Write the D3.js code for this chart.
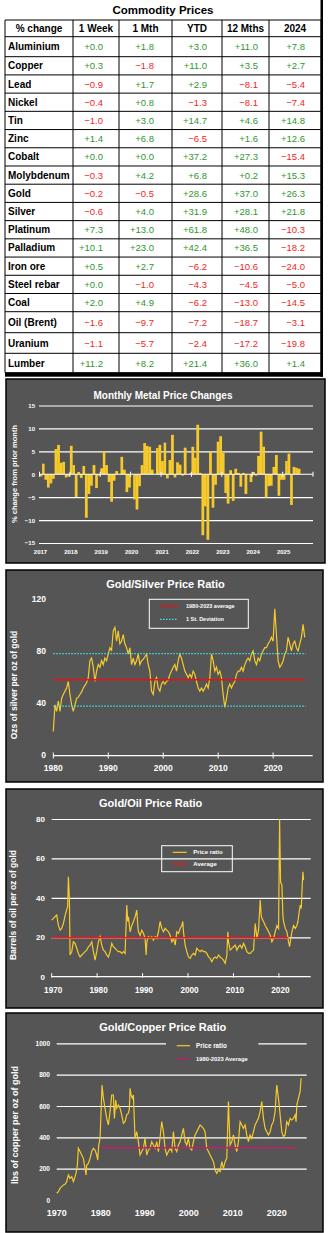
<!DOCTYPE html>
<html lang="en">
<head>
<meta charset="UTF-8">
<title>Commodity Prices</title>
<script src="https://d3js.org/d3.v7.min.js"></script>
<style>
    body {
        margin: 0;
        background: #fff;
    }
    svg {
        display: block;
    }
    text {
        font-family: 'Liberation Sans', Arial, sans-serif;
    }
</style>
</head>
<body>
<svg id="page" width="328" height="1233"></svg>
<script>
// ---- table data ----
const tableHeaders = ["% change", "1 Week", "1 Mth", "YTD", "12 Mths", "2024"];
const commodities = ["Aluminium", "Copper", "Lead", "Nickel", "Tin", "Zinc", "Cobalt", "Molybdenum", "Gold",
    "Silver", "Platinum", "Palladium", "Iron ore", "Steel rebar", "Coal", "Oil (Brent)", "Uranium", "Lumber"];
const weekChg = [0.0, 0.3, -0.9, -0.4, -1.0, 1.4, 0.0, -0.3, -0.2, -0.6, 7.3, 10.1, 0.5, 0.0, 2.0, -1.6, -1.1, 11.2];
const monthChg = [1.8, -1.8, 1.7, 0.8, 3.0, 6.8, 0.0, 4.2, -0.5, 4.0, 13.0, 23.0, 2.7, -1.0, 4.9, -9.7, -5.7, 8.2];
const ytdChg = [3.0, 11.0, 2.9, -1.3, 14.7, -6.5, 37.2, 6.8, 28.6, 31.9, 61.8, 42.4, -6.2, -4.3, -6.2, -7.2, -2.4, 21.4];
const yearChg = [11.0, 3.5, -8.1, -8.1, 4.6, 1.6, 27.3, 0.2, 37.0, 28.1, 48.0, 36.5, -10.6, -4.5, -13.0, -18.7, -17.2, 36.0];
const chg2024 = [7.8, 2.7, -5.4, -7.4, 14.8, 12.6, -15.4, 15.3, 26.3, 21.8, -10.3, -18.2, -24.0, -5.0, -14.5, -3.1, -19.8, 1.4];

// ---- monthly metal price changes (Jan 2017 onwards) ----
const monthlyStart = new Date(2017, 0, 1);
const monthlyChanges = [
    -0.5, 2.3, -1.2, -2.9, -2.0, -1.0, 5.5, 6.4, 2.5, 2.7, -0.7, -0.5,
    6.2, 2.0, -5.0, 0.5, -0.8, 1.8, -9.5, -4.3, -2.5, 2.0, -3.0, -0.3,
    1.3, 5.0, 2.0, -1.7, -6.0, -1.4, 0.7, 0.0, 3.8, 1.0, -3.9, -2.9,
    0.0, -5.5, -7.7, -2.6, 2.0, 6.8, 6.2, 6.0, 1.0, 0.0, 5.7, 6.4,
    2.9, 6.9, -0.9, 3.1, 8.6, -0.7, 2.6, 2.1, -0.3, 5.8, 0.0, 0.2,
    6.0, 3.6, 10.8, 0.3, -13.3, -7.0, -14.3, 4.9, -7.3, -2.3, 7.1, 8.3,
    4.7, -4.1, -6.4, 0.9, -5.8, 1.2, 0.3, -2.7, 0.3, -4.3, 0.0, -1.7,
    0.5, -0.3, 4.0, 9.3, 6.0, -5.1, -2.6, -2.5, 1.6, 4.2, -4.7, -1.2,
    -1.2, 2.9, 4.5, -6.7, 1.6, 1.4, 1.2
];
const monthlyTicks = [15, 10, 5, 0, -5, -10, -15];
const monthlyYears = [2017, 2018, 2019, 2020, 2021, 2022, 2023, 2024, 2025];

// ---- gold/silver ratio, read every ~0.3 years from 1980 ----
const gsStart = 1980, gsStep = 0.303;
const gsRatio = [
    17.6, 38, 33, 41, 33, 43, 46, 48.6, 51, 56,
    46, 38, 33, 38, 43, 44, 46, 48, 51, 53,
    55, 59, 72, 74, 67, 56, 64, 69, 67, 72,
    69, 74, 72, 77, 82, 80, 95, 97.7, 87, 95,
    85, 87, 92, 85, 82, 77, 82, 69, 74, 69,
    72, 77, 69, 72, 73, 75, 77, 69, 64, 48.6,
    46, 56, 59, 51, 48.6, 54, 56, 54, 56, 57,
    61.5, 64, 67, 69, 64, 72, 77, 74, 69, 64,
    61.5, 59, 61.5, 59, 64, 61.5, 56, 51, 48.6, 51,
    48.6, 51, 54, 51, 59, 77, 72, 64, 67, 61.5,
    64, 59, 46, 36, 43, 51, 54, 51, 54, 56,
    61.5, 64, 64, 67, 64, 69, 72, 74, 72, 77,
    79.6, 72, 69, 74, 72, 77, 79.6, 82, 82, 85,
    87, 90, 87, 112, 92, 72, 67, 69, 72, 77,
    79.6, 90, 85, 79.6, 85, 87, 82, 79.6, 85, 90,
    100, 90
];
const gsAverage = 57.3, gsDeviation = 20.2;
const gsTicks = [0, 40, 80, 120];
const gsDecades = [1980, 1990, 2000, 2010, 2020];

// ---- gold/oil ratio [year, barrels] ----
const oilRatio = [
    [1970.00, 28.7], [1970.37, 29.6], [1970.73, 30.4], [1971.10, 31.3], [1971.47, 26], [1971.84, 23.6],
    [1972.20, 24.5], [1972.57, 27], [1972.94, 31], [1973.30, 34], [1973.52, 35.5], [1973.67, 50.7],
    [1973.89, 40], [1974.04, 11], [1974.41, 12.7], [1974.77, 17.7], [1975.14, 16.9], [1975.51, 14.4],
    [1975.87, 11.8], [1976.24, 10], [1976.61, 11], [1976.98, 11.8], [1977.34, 12.7], [1977.71, 13.5],
    [1978.08, 15.2], [1978.44, 16], [1978.81, 17.7], [1979.18, 12.7], [1979.54, 8.4], [1979.91, 12.7],
    [1980.28, 17.7], [1980.65, 20.3], [1981.01, 16], [1981.38, 13.5], [1981.75, 12.7], [1982.11, 11],
    [1982.48, 10], [1982.85, 12.7], [1983.22, 16.9], [1983.58, 15.2], [1983.95, 14.4], [1984.32, 13.5],
    [1984.68, 12.7], [1985.05, 12.7], [1985.42, 11.8], [1985.79, 12.7], [1986.15, 11.8], [1986.37, 26],
    [1986.52, 36.3], [1986.74, 28], [1986.89, 30.4], [1987.25, 22.8], [1987.62, 26], [1987.99, 28],
    [1988.36, 30.4], [1988.72, 33.8], [1988.94, 26], [1989.09, 22.8], [1989.46, 21], [1989.82, 23.6],
    [1990.19, 22], [1990.56, 19.4], [1990.78, 11], [1990.93, 17.7], [1991.29, 20.3], [1991.66, 19.4],
    [1992.03, 20.3], [1992.39, 18.6], [1992.76, 20.3], [1993.13, 19.4], [1993.50, 22.8], [1993.86, 28],
    [1994.23, 24.5], [1994.60, 22.8], [1994.96, 24.5], [1995.33, 23.6], [1995.70, 22.8], [1996.06, 21],
    [1996.43, 17.7], [1996.80, 19.4], [1997.17, 16], [1997.53, 22.8], [1997.90, 22], [1998.27, 24.5],
    [1998.63, 26], [1998.85, 28], [1999.00, 22.8], [1999.37, 16], [1999.74, 12.7], [2000.10, 10],
    [2000.47, 9.3], [2000.84, 11], [2001.20, 11.8], [2001.57, 11], [2001.94, 14.4], [2002.31, 13.5],
    [2002.67, 12.7], [2003.04, 13.5], [2003.41, 12.7], [2003.77, 12.7], [2004.14, 11.8], [2004.51, 10],
    [2004.87, 9.3], [2005.24, 7.6], [2005.61, 9.3], [2005.98, 10], [2006.34, 9.3], [2006.71, 11],
    [2007.08, 10], [2007.44, 9.3], [2007.81, 8.4], [2008.18, 6.8], [2008.55, 11], [2008.77, 22.8],
    [2008.91, 17.7], [2009.28, 13.5], [2009.65, 14.4], [2010.01, 15.2], [2010.38, 16], [2010.75, 13.5],
    [2011.11, 15.2], [2011.48, 16], [2011.85, 14.4], [2012.22, 16.9], [2012.58, 15.2], [2012.95, 12.7],
    [2013.32, 11.8], [2013.69, 11.8], [2014.05, 12.7], [2014.42, 13.5], [2014.79, 27], [2015.01, 22.8],
    [2015.16, 19.4], [2015.52, 23.6], [2015.89, 38.9], [2016.11, 31], [2016.26, 29.6], [2016.62, 28],
    [2016.99, 26], [2017.36, 24.5], [2017.72, 22.8], [2018.09, 21], [2018.46, 17.7], [2018.83, 19.4],
    [2019.19, 22.8], [2019.56, 26], [2019.93, 24.5], [2020.15, 80], [2020.37, 48], [2020.66, 46.5],
    [2020.88, 31], [2021.03, 28], [2021.40, 24.5], [2021.76, 22.8], [2022.13, 17.7], [2022.35, 15.2],
    [2022.64, 19.4], [2022.86, 22.8], [2023.23, 26], [2023.60, 24.5], [2023.96, 26], [2024.19, 28],
    [2024.48, 33], [2024.70, 36.3], [2024.92, 34.6], [2025.14, 46.5], [2025.29, 53.2], [2025.43, 49]
];
const oilAverage = 19.8, oilAverageEnd = 2022.1;
const oilTicks = [0, 20, 40, 60, 80];
const oilDecades = [1970, 1980, 1990, 2000, 2010, 2020];

// ---- gold/copper ratio [year, lbs] ----
const copperRatio = [
    [1970.00, 43], [1970.38, 53], [1970.76, 74], [1971.14, 85], [1971.52, 96], [1971.89, 100],
    [1972.27, 117], [1972.65, 160], [1973.03, 138], [1973.41, 149], [1973.79, 117], [1974.17, 149],
    [1974.39, 170], [1974.70, 223], [1974.92, 330], [1975.30, 309], [1975.68, 287], [1976.06, 266],
    [1976.44, 202], [1976.67, 160], [1976.82, 223], [1977.20, 234], [1977.58, 266], [1977.95, 309],
    [1978.33, 330], [1978.71, 319], [1979.09, 287], [1979.32, 255], [1979.55, 351], [1979.85, 394],
    [1980.08, 564], [1980.30, 734], [1980.61, 649], [1980.98, 585], [1981.36, 521], [1981.74, 479],
    [1982.12, 564], [1982.50, 670], [1982.88, 670], [1983.11, 521], [1983.41, 638], [1983.64, 585],
    [1984.02, 606], [1984.39, 585], [1984.77, 543], [1985.15, 489], [1985.53, 500], [1985.91, 543],
    [1986.29, 554], [1986.52, 585], [1986.67, 713], [1986.89, 670], [1987.20, 649], [1987.42, 670],
    [1987.80, 394], [1988.18, 436], [1988.56, 372], [1988.94, 287], [1989.32, 309], [1989.70, 330],
    [1990.08, 394], [1990.45, 287], [1990.83, 319], [1991.21, 330], [1991.59, 372], [1991.97, 351],
    [1992.35, 330], [1992.73, 372], [1993.11, 309], [1993.48, 394], [1993.86, 500], [1994.24, 436],
    [1994.62, 330], [1995.00, 287], [1995.38, 309], [1995.76, 330], [1996.14, 309], [1996.52, 436],
    [1996.89, 330], [1997.27, 309], [1997.65, 351], [1998.03, 372], [1998.41, 415], [1998.79, 457],
    [1999.17, 372], [1999.55, 351], [1999.92, 394], [2000.30, 330], [2000.68, 319], [2001.06, 372],
    [2001.44, 415], [2001.82, 436], [2002.20, 457], [2002.58, 479], [2002.95, 468], [2003.33, 457],
    [2003.71, 436], [2004.09, 330], [2004.47, 309], [2004.85, 287], [2005.23, 266], [2005.61, 245],
    [2005.98, 191], [2006.36, 170], [2006.74, 191], [2007.12, 181], [2007.50, 245], [2007.88, 202],
    [2008.26, 245], [2008.64, 266], [2009.02, 628], [2009.24, 457], [2009.39, 351], [2009.77, 372],
    [2010.15, 415], [2010.53, 351], [2010.91, 309], [2011.29, 372], [2011.67, 500], [2012.05, 479],
    [2012.42, 457], [2012.80, 479], [2013.18, 415], [2013.56, 372], [2013.94, 415], [2014.32, 394],
    [2014.70, 436], [2015.08, 479], [2015.45, 500], [2015.83, 521], [2016.21, 564], [2016.59, 628],
    [2016.97, 521], [2017.35, 457], [2017.73, 436], [2018.11, 415], [2018.48, 436], [2018.86, 479],
    [2019.24, 500], [2019.62, 564], [2020.00, 734], [2020.38, 649], [2020.76, 543], [2021.14, 436],
    [2021.52, 404], [2021.89, 415], [2022.27, 500], [2022.65, 479], [2023.03, 521], [2023.41, 511],
    [2023.79, 521], [2024.17, 543], [2024.39, 500], [2024.55, 606], [2024.92, 649], [2025.30, 692],
    [2025.53, 777]
];
const copperAverage = 334, copperAverageSpan = [1980, 2024.4];
const copperTicks = [0, 200, 400, 600, 800, 1000];
const copperDecades = [1970, 1980, 1990, 2000, 2010, 2020];

// ---- drawing ----
const svg = d3.select("#page");
const GOLD = "#f6ca2a";
const PANEL = "#555555";

// Commodity price table
svg.append("text")
    .attr("x", 163).attr("y", 14)
    .attr("text-anchor", "middle")
    .attr("font-size", 11.5).attr("font-weight", "bold")
    .text("Commodity Prices");

const colEdges = [5, 73, 119, 172, 222, 269, 321];
const rowEdges = [20, 36.7, 56.7];
for (let i = 1; i <= 14; i++) rowEdges.push(56.7 + i * 255 / 14);
rowEdges.push(332.7, 353.3, 372.7);
const valueRight = [103, 154, 207, 258, 305];
const columns = [weekChg, monthChg, ytdChg, yearChg, chg2024];
const fmt = d3.format("+.1f");

const table = svg.append("g");
table.selectAll("line.h").data(rowEdges).enter().append("line")
    .attr("x1", colEdges[0]).attr("x2", colEdges[6])
    .attr("y1", d => d).attr("y2", d => d)
    .attr("stroke", "#000").attr("stroke-width", 1);
table.selectAll("line.v").data(colEdges).enter().append("line")
    .attr("x1", d => d).attr("x2", d => d)
    .attr("y1", rowEdges[0]).attr("y2", rowEdges[rowEdges.length - 1])
    .attr("stroke", "#000").attr("stroke-width", 1);
// heavy shadow edges on the right and bottom
table.append("rect").attr("x", 320.5).attr("y", 0).attr("width", 2.5).attr("height", 376.7).attr("fill", "#000");
table.append("rect").attr("x", 5).attr("y", 372.7).attr("width", 318).attr("height", 4).attr("fill", "#000");

table.selectAll("text.head").data(tableHeaders).enter().append("text")
    .attr("x", (d, i) => (colEdges[i] + colEdges[i + 1]) / 2)
    .attr("y", (rowEdges[0] + rowEdges[1]) / 2 + 3.6)
    .attr("text-anchor", "middle")
    .attr("font-size", 10).attr("font-weight", "bold")
    .text(d => d);

commodities.forEach((name, r) => {
    const cy = (rowEdges[r + 1] + rowEdges[r + 2]) / 2 + 3.5;
    table.append("text")
        .attr("x", 8).attr("y", cy)
        .attr("font-size", 10).attr("font-weight", "bold")
        .text(name);
    columns.forEach((col, c) => {
        table.append("text")
            .attr("x", valueRight[c]).attr("y", cy)
            .attr("text-anchor", "end")
            .attr("font-size", 9.5)
            .attr("fill", col[r] >= 0 ? "#2f962f" : "#f51d1d")
            .text(fmt(col[r]));
    });
});

function panel(x, y, w, h) {
    svg.append("rect").attr("x", x).attr("y", y).attr("width", w).attr("height", h)
        .attr("fill", PANEL).attr("stroke", "#000").attr("stroke-width", 1.5);
}

function whiteText(g, x, y, size, str, anchor) {
    return g.append("text").attr("x", x).attr("y", y)
        .attr("fill", "#fff").attr("font-size", size).attr("font-weight", "bold")
        .attr("text-anchor", anchor || "middle").text(str);
}

function yLabel(x, y, size, str) {
    svg.append("text")
        .attr("transform", `translate(${x},${y}) rotate(-90)`)
        .attr("fill", "#fff").attr("font-size", size).attr("font-weight", "bold")
        .attr("text-anchor", "middle").text(str);
}

function styleAxisText(g, size) {
    g.select(".domain").remove();
    g.selectAll("text").attr("fill", "#fff").attr("font-size", size).attr("font-weight", "bold")
        .attr("font-family", "'Liberation Sans', Arial, sans-serif");
}

// ---- Monthly Metal Price Changes ----
panel(6, 379, 319, 184);
whiteText(svg, 163, 398.5, 10, "Monthly Metal Price Changes");
yLabel(16.7, 474, 7.5, "% change from prior month");

const mx = d3.scaleTime().domain([new Date(2017, 0, 1), new Date(2026, 0, 1)]).range([39.5, 313]);
const my = d3.scaleLinear().domain([-15, 15]).range([543, 405.5]);

const mGrid = svg.append("g").attr("transform", "translate(39,0)")
    .call(d3.axisLeft(my).tickValues(monthlyTicks.filter(d => d !== 0)).tickSize(-274).tickFormat(""));
mGrid.select(".domain").remove();
mGrid.selectAll("line").attr("stroke", "#fff").attr("stroke-width", 1.1);

const mLabels = svg.append("g").attr("transform", "translate(35,0)")
    .call(d3.axisLeft(my).tickValues(monthlyTicks).tickSize(0).tickPadding(0));
styleAxisText(mLabels, 6);

svg.append("g").selectAll("rect").data(monthlyChanges).enter().append("rect")
    .attr("x", (d, i) => mx(d3.timeMonth.offset(monthlyStart, i)))
    .attr("width", (d, i) => mx(d3.timeMonth.offset(monthlyStart, i + 1)) - mx(d3.timeMonth.offset(monthlyStart, i)) + 0.2)
    .attr("y", d => my(Math.max(0, d)))
    .attr("height", d => Math.abs(my(d) - my(0)))
    .attr("fill", GOLD);

svg.append("line").attr("x1", 39).attr("x2", 313).attr("y1", my(0)).attr("y2", my(0))
    .attr("stroke", "#fff").attr("stroke-width", 1.2);
const yearStarts = monthlyYears.concat([2026]).map(y => new Date(y, 0, 1));
svg.append("g").selectAll("line").data(yearStarts).enter().append("line")
    .attr("x1", d => mx(d)).attr("x2", d => mx(d))
    .attr("y1", my(0) - 2.5).attr("y2", my(0) + 2.5)
    .attr("stroke", "#fff").attr("stroke-width", 1);
svg.append("g").selectAll("text").data(monthlyYears).enter().append("text")
    .attr("x", d => mx(new Date(d, 0, 1)) + 1).attr("y", 553.5)
    .attr("text-anchor", "middle").attr("fill", "#fff")
    .attr("font-size", 6).attr("font-weight", "bold")
    .text(d => d);

// ---- Gold/Silver Price Ratio ----
panel(6, 570, 317, 212);
whiteText(svg, 165.5, 588, 11, "Gold/Silver Price Ratio");
yLabel(17, 685, 8.5, "Ozs of silver per oz of gold");

const gx = d3.scaleLinear().domain([1980, 2027.2]).range([53.3, 312.7]);
const gy = d3.scaleLinear().domain([0, 120]).range([754.3, 598.3]);
const gsEnd = gsStart + (gsRatio.length - 1) * gsStep;

const gLabels = svg.append("g").attr("transform", "translate(46,0)")
    .call(d3.axisLeft(gy).tickValues(gsTicks).tickSize(0).tickPadding(0));
styleAxisText(gLabels, 8.5);

svg.append("line").attr("x1", gx(1980)).attr("x2", 312.7).attr("y1", 755.6).attr("y2", 755.6)
    .attr("stroke", "#fff").attr("stroke-width", 1.2);
svg.append("g").selectAll("line").data(gsDecades).enter().append("line")
    .attr("x1", d => gx(d)).attr("x2", d => gx(d)).attr("y1", 752.5).attr("y2", 758.5)
    .attr("stroke", "#fff");
svg.append("g").selectAll("text").data(gsDecades).enter().append("text")
    .attr("x", d => gx(d)).attr("y", 771)
    .attr("text-anchor", "middle").attr("fill", "#fff")
    .attr("font-size", 8.5).attr("font-weight", "bold").text(d => d);

svg.append("path").datum(gsRatio)
    .attr("fill", "none").attr("stroke", GOLD).attr("stroke-width", 1.2)
    .attr("d", d3.line().x((d, i) => gx(gsStart + i * gsStep)).y(d => gy(d)));

svg.append("line").attr("x1", gx(1980)).attr("x2", gx(gsEnd))
    .attr("y1", gy(gsAverage)).attr("y2", gy(gsAverage))
    .attr("stroke", "#ee1010").attr("stroke-width", 1.5);
[gsAverage + gsDeviation, gsAverage - gsDeviation].forEach(v => {
    svg.append("line").attr("x1", gx(1980)).attr("x2", gx(gsEnd) + 1)
        .attr("y1", gy(v)).attr("y2", gy(v))
        .attr("stroke", "#3fe6ea").attr("stroke-width", 1.2).attr("stroke-dasharray", "1.5,1.5");
});

svg.append("rect").attr("x", 149.3).attr("y", 599.3).attr("width", 99).attr("height", 29)
    .attr("fill", "none").attr("stroke", "#fff").attr("stroke-width", 1);
svg.append("line").attr("x1", 160).attr("x2", 178).attr("y1", 606).attr("y2", 606)
    .attr("stroke", "#ee1010").attr("stroke-width", 1.3);
whiteText(svg, 186, 608, 5.5, "1980-2023 average", "start");
svg.append("line").attr("x1", 160).attr("x2", 178).attr("y1", 619.3).attr("y2", 619.3)
    .attr("stroke", "#3fe6ea").attr("stroke-width", 1.2).attr("stroke-dasharray", "1.5,1.5");
whiteText(svg, 186, 621.3, 5.5, "1 St. Deviation", "start");

// ---- Gold/Oil Price Ratio ----
panel(6, 789, 317, 219);
whiteText(svg, 150.7, 807, 11, "Gold/Oil Price Ratio");
yLabel(16.3, 905, 8.5, "Barrels of oil per oz of gold");

const ox = d3.scaleLinear().domain([1970, 2027]).range([51.7, 310.7]);
const oy = d3.scaleLinear().domain([0, 80]).range([976.7, 819]);

const oGrid = svg.append("g").attr("transform", "translate(51.7,0)")
    .call(d3.axisLeft(oy).tickValues(oilTicks.filter(d => d > 0)).tickSize(-259).tickFormat(""));
oGrid.select(".domain").remove();
oGrid.selectAll("line").attr("stroke", "#fff").attr("stroke-width", 1.2);

const oLabels = svg.append("g").attr("transform", "translate(45,0)")
    .call(d3.axisLeft(oy).tickValues(oilTicks).tickSize(0).tickPadding(0));
styleAxisText(oLabels, 8);

svg.append("line").attr("x1", 51.7).attr("x2", 310.7).attr("y1", oy(0)).attr("y2", oy(0))
    .attr("stroke", "#fff").attr("stroke-width", 1.2);
svg.append("g").selectAll("line").data(oilDecades).enter().append("line")
    .attr("x1", d => ox(d)).attr("x2", d => ox(d)).attr("y1", oy(0) - 3.5).attr("y2", oy(0) + 1)
    .attr("stroke", "#fff");
svg.append("g").selectAll("text").data(oilDecades).enter().append("text")
    .attr("x", d => ox(d) + 1.5).attr("y", 993)
    .attr("text-anchor", "middle").attr("fill", "#fff")
    .attr("font-size", 8.2).attr("font-weight", "bold").text(d => d);

svg.append("path").datum(oilRatio)
    .attr("fill", "none").attr("stroke", GOLD).attr("stroke-width", 1.2)
    .attr("d", d3.line().x(d => ox(d[0])).y(d => oy(d[1])));

svg.append("line").attr("x1", ox(1970)).attr("x2", ox(oilAverageEnd))
    .attr("y1", oy(oilAverage)).attr("y2", oy(oilAverage))
    .attr("stroke", "#ff1010").attr("stroke-width", 1.5);

svg.append("rect").attr("x", 161.7).attr("y", 845.7).attr("width", 70.6).attr("height", 26)
    .attr("fill", "none").attr("stroke", "#fff").attr("stroke-width", 1);
svg.append("line").attr("x1", 172.7).attr("x2", 186.7).attr("y1", 852.3).attr("y2", 852.3)
    .attr("stroke", GOLD).attr("stroke-width", 1.2);
whiteText(svg, 193.3, 854.4, 6, "Price ratio", "start");
svg.append("line").attr("x1", 172.7).attr("x2", 186.7).attr("y1", 864).attr("y2", 864)
    .attr("stroke", "#ff1010").attr("stroke-width", 1.3);
whiteText(svg, 193.3, 866.1, 6, "Average", "start");

// ---- Gold/Copper Price Ratio ----
panel(6, 1013, 317, 219);
whiteText(svg, 162.7, 1031, 11, "Gold/Copper Price Ratio");
yLabel(17.5, 1125, 9, "lbs of copper per oz of gold");

const cx = d3.scaleLinear().domain([1970, 2026.8]).range([56.7, 306.7]);
const cy = d3.scaleLinear().domain([0, 1000]).range([1200, 1043.3]);

const cGrid = svg.append("g").attr("transform", "translate(56.7,0)")
    .call(d3.axisLeft(cy).tickValues(copperTicks.filter(d => d > 0)).tickSize(-250).tickFormat(""));
cGrid.select(".domain").remove();
cGrid.selectAll("line").attr("stroke", "#fff").attr("stroke-width", 1.2);

const cLabels = svg.append("g").attr("transform", "translate(50,0)")
    .call(d3.axisLeft(cy).tickValues(copperTicks).tickFormat(d3.format("d")).tickSize(0).tickPadding(0));
styleAxisText(cLabels, 6.5);

svg.append("g").selectAll("text").data(copperDecades).enter().append("text")
    .attr("x", d => cx(d)).attr("y", 1216)
    .attr("text-anchor", "middle").attr("fill", "#fff")
    .attr("font-size", 9).attr("font-weight", "bold").text(d => d);

svg.append("path").datum(copperRatio)
    .attr("fill", "none").attr("stroke", GOLD).attr("stroke-width", 1.2)
    .attr("d", d3.line().x(d => cx(d[0])).y(d => cy(d[1])));

svg.append("line").attr("x1", cx(copperAverageSpan[0])).attr("x2", cx(copperAverageSpan[1]))
    .attr("y1", cy(copperAverage)).attr("y2", cy(copperAverage))
    .attr("stroke", "#c2206a").attr("stroke-width", 1.5);

// legend sits on a plain patch that hides the top gridline
svg.append("rect").attr("x", 166).attr("y", 1038).attr("width", 92.3).attr("height", 27).attr("fill", PANEL);
svg.append("line").attr("x1", 176.7).attr("x2", 190).attr("y1", 1045.7).attr("y2", 1045.7)
    .attr("stroke", GOLD).attr("stroke-width", 1.2);
whiteText(svg, 196, 1047.8, 6.3, "Price ratio", "start");
svg.append("line").attr("x1", 176.7).attr("x2", 190).attr("y1", 1059).attr("y2", 1059)
    .attr("stroke", "#c2206a").attr("stroke-width", 1.3);
whiteText(svg, 196, 1061.1, 5.8, "1980-2023 Average", "start");
</script>
</body>
</html>
